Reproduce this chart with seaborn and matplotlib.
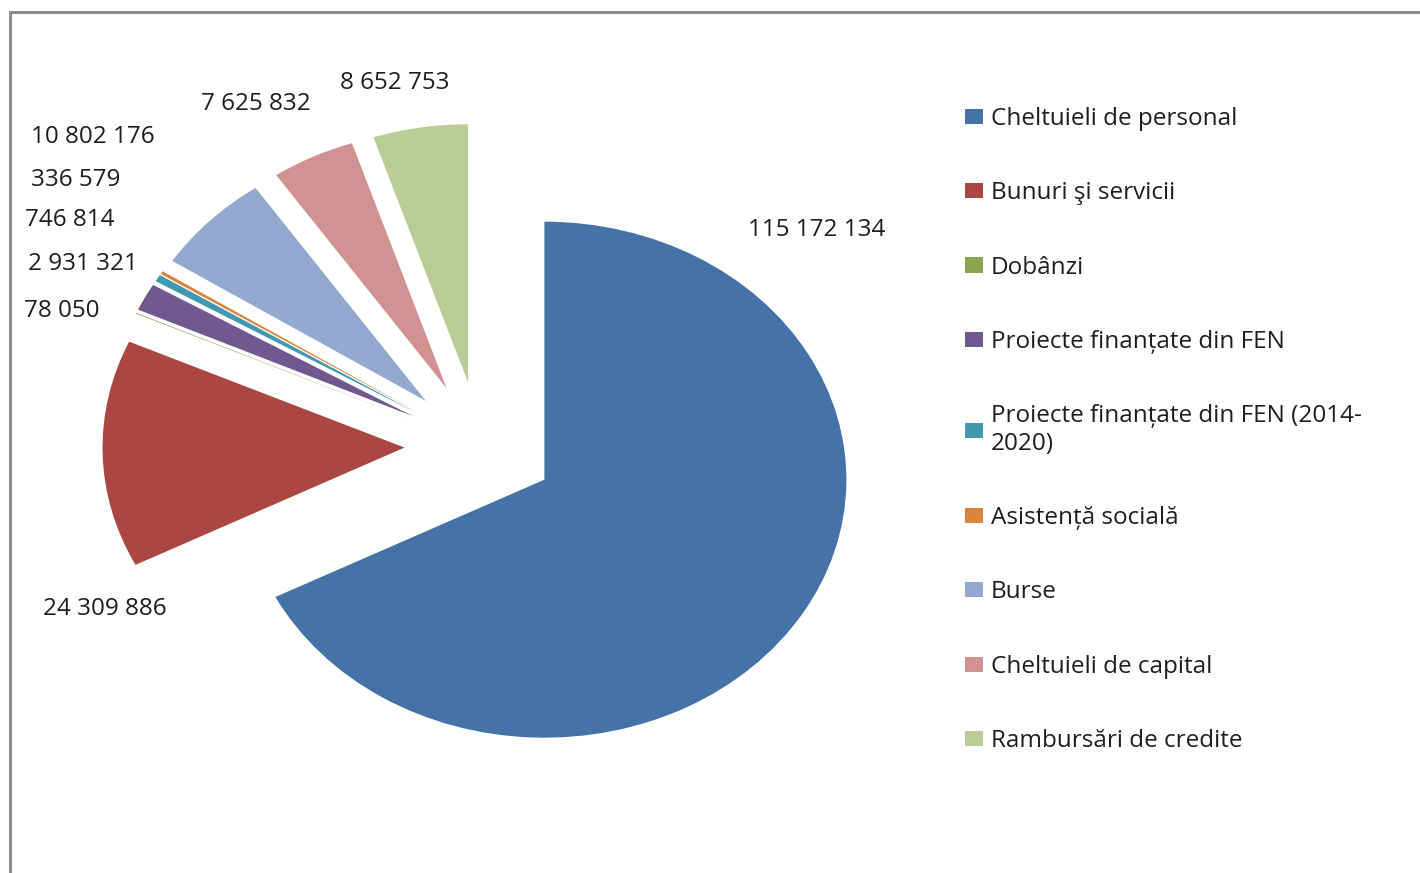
import matplotlib
matplotlib.use("Agg")
import matplotlib.pyplot as plt
from matplotlib.patches import Rectangle
import seaborn as sns

# ---- data ----
categories = [
    "Cheltuieli de personal",
    "Bunuri şi servicii",
    "Dobânzi",
    "Proiecte finanțate din FEN",
    "Proiecte finanțate din FEN (2014-\n2020)",
    "Asistență socială",
    "Burse",
    "Cheltuieli de capital",
    "Rambursări de credite",
]
values = [115172134, 24309886, 78050, 2931321, 746814, 336579,
          10802176, 7625832, 8652753]
value_labels = ["115 172 134", "24 309 886", "78 050", "2 931 321", "746 814",
                "336 579", "10 802 176", "7 625 832", "8 652 753"]

colors = ["#4572A7", "#AA4643", "#89A54E", "#71588F", "#4198AF",
          "#DB843D", "#93A9CF", "#D19392", "#B9CD96"]

# label anchor positions (pixels in the 1420x873 canvas)
label_pos_px = [(817, 230), (105, 609), (62, 311), (83, 264), (70, 220),
                (76, 180), (93, 137), (256, 104), (395, 83)]

W, H = 1420, 873
sns.set_theme(style="white")
plt.rcParams["font.family"] = ["Open Sans", "DejaVu Sans"]
TXT = "#1e1e1e"
FS = 17.5

fig = plt.figure(figsize=(W / 100, H / 100), dpi=100)
ax = fig.add_axes([0, 0, 1, 1])

wedges, _ = ax.pie(values, colors=sns.color_palette(colors), startangle=90,
                   counterclock=False, explode=[0.25] * len(values),
                   radius=1, wedgeprops=dict(linewidth=0))

# elliptical (stretched) pie like the reference
cx, cy, rx, ry = 480, 446, 302, 258
ax.set_aspect("auto")
ax.set_xlim(-cx / rx, (W - cx) / rx)
ax.set_ylim((cy - H) / ry, cy / ry)
ax.axis("off")

for lab, (px, py) in zip(value_labels, label_pos_px):
    fig.text(px / W, 1 - py / H, lab, ha="center", va="center",
             fontsize=FS, color=TXT)

leg = fig.legend(wedges, categories, loc="upper left",
                 bbox_to_anchor=(965 / W, 1 - 107 / H),
                 frameon=False, fontsize=FS, handlelength=0.72,
                 handleheight=0.58, handletextpad=0.34, labelspacing=2.07,
                 borderpad=0, borderaxespad=0)
for t in leg.get_texts():
    t.set_color(TXT)

# outer chart border (partially visible)
fig.patches.append(Rectangle((10 / W, -0.05), 1.2, 1 - 12 / H + 0.05,
                             transform=fig.transFigure, fill=False,
                             edgecolor="#8c8c8c", linewidth=2.2))

fig.savefig("out.png", dpi=100)
